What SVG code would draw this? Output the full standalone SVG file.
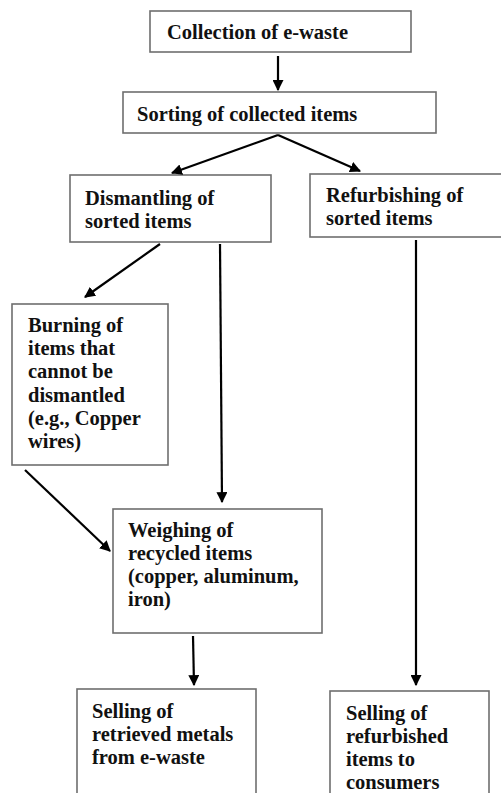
<svg xmlns="http://www.w3.org/2000/svg" width="501" height="793" viewBox="0 0 501 793">
<style>
.box{fill:#fff;stroke:#6e6e6e;stroke-width:1.6}
.t{font-family:"Liberation Serif","Times New Roman",serif;font-weight:bold;font-size:20.5px;fill:#111}
.c{stroke:#000;stroke-width:2.2;fill:none;marker-end:url(#ah)}
</style>
<defs>
<marker id="ah" viewBox="0 0 10 10" refX="9" refY="5" markerWidth="5" markerHeight="5" orient="auto" markerUnits="strokeWidth">
<path d="M0,0 L10,5 L0,10 z" fill="#000"/>
</marker>
</defs>
<rect width="501" height="793" fill="#fff"/>
<g id="collection"><rect class="box" x="150" y="11" width="261" height="41"/><text class="t" x="167" y="39">Collection of e-waste</text></g>
<g id="sorting"><rect class="box" x="123" y="92" width="313" height="41"/><text class="t" x="137" y="121">Sorting of collected items</text></g>
<g id="dismantling"><rect class="box" x="70" y="175" width="201" height="67"/><text class="t" x="85" y="205">Dismantling of</text><text class="t" x="85" y="228">sorted items</text></g>
<g id="refurbishing"><rect class="box" x="310" y="174" width="200" height="63"/><text class="t" x="326" y="202">Refurbishing of</text><text class="t" x="326" y="225">sorted items</text></g>
<g id="burning"><rect class="box" x="12" y="304" width="156" height="161"/><text class="t" x="28" y="332">Burning of</text><text class="t" x="28" y="355">items that</text><text class="t" x="28" y="378">cannot be</text><text class="t" x="28" y="402">dismantled</text><text class="t" x="28" y="425">(e.g., Copper</text><text class="t" x="28" y="448">wires)</text></g>
<g id="weighing"><rect class="box" x="113" y="509" width="209" height="124"/><text class="t" x="128" y="537">Weighing of</text><text class="t" x="128" y="560">recycled items</text><text class="t" x="128" y="583">(copper, aluminum,</text><text class="t" x="128" y="606">iron)</text></g>
<g id="selling-metals"><rect class="box" x="77" y="689" width="179" height="120"/><text class="t" x="92" y="718">Selling of</text><text class="t" x="92" y="741">retrieved metals</text><text class="t" x="92" y="764">from e-waste</text></g>
<g id="selling-refurbished"><rect class="box" x="330" y="691" width="159" height="120"/><text class="t" x="346" y="720">Selling of</text><text class="t" x="346" y="743">refurbished</text><text class="t" x="346" y="766">items to</text><text class="t" x="346" y="789">consumers</text></g>
<g id="connectors">
<line class="c" x1="278" y1="56" x2="278" y2="90"/>
<line class="c" x1="278" y1="135" x2="172" y2="173"/>
<line class="c" x1="278" y1="135" x2="360" y2="171"/>
<line class="c" x1="160" y1="244" x2="85" y2="297"/>
<line class="c" x1="220" y1="244" x2="222" y2="502"/>
<line class="c" x1="25" y1="470" x2="110" y2="551"/>
<line class="c" x1="193" y1="636" x2="194" y2="685"/>
<line class="c" x1="416" y1="240" x2="416" y2="685"/>
</g>
</svg>
